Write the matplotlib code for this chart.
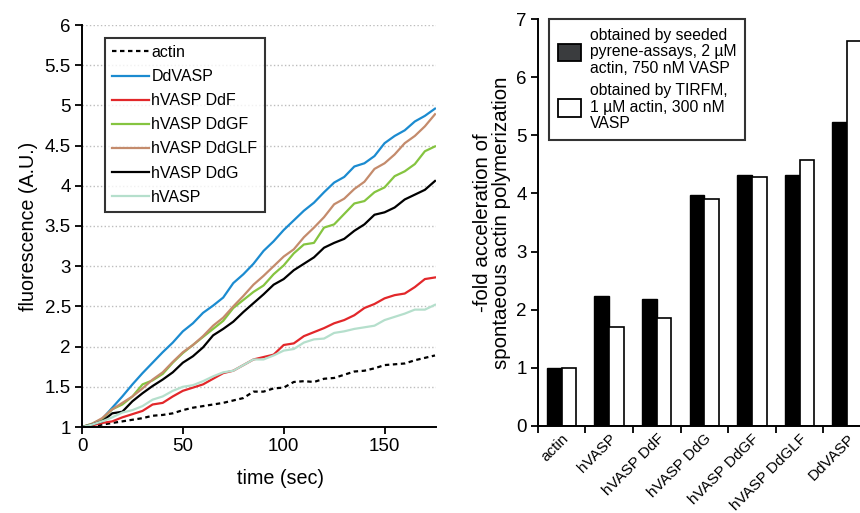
import numpy as np
import matplotlib
matplotlib.use("Agg")
import matplotlib.pyplot as plt
from matplotlib.patches import Patch

plt.rcParams['font.family'] = ['Liberation Sans', 'DejaVu Sans']

# ---------------- data: left panel (time course) ----------------
time = list(range(0, 180, 5))
actin = [1.00, 1.01, 1.03, 1.05, 1.07, 1.09, 1.11, 1.14, 1.15, 1.17, 1.21, 1.24, 1.26, 1.28,
         1.30, 1.33, 1.36, 1.44, 1.44, 1.48, 1.49, 1.56, 1.57, 1.56, 1.60, 1.61, 1.65, 1.69,
         1.70, 1.73, 1.77, 1.78, 1.79, 1.83, 1.86, 1.89]
ddvasp = [1.00, 1.03, 1.10, 1.24, 1.38, 1.53, 1.67, 1.80, 1.93, 2.05, 2.19, 2.29, 2.42, 2.51,
          2.61, 2.79, 2.90, 3.03, 3.19, 3.31, 3.45, 3.57, 3.69, 3.79, 3.92, 4.04, 4.11, 4.24,
          4.28, 4.37, 4.53, 4.62, 4.69, 4.80, 4.87, 4.96]
hvasp_ddf = [1.00, 1.02, 1.05, 1.07, 1.12, 1.16, 1.20, 1.28, 1.30, 1.38, 1.45, 1.49, 1.53, 1.60,
             1.67, 1.70, 1.77, 1.84, 1.87, 1.90, 2.02, 2.04, 2.13, 2.18, 2.23, 2.29, 2.33, 2.39,
             2.48, 2.53, 2.60, 2.64, 2.66, 2.74, 2.84, 2.86]
hvasp_ddgf = [1.00, 1.04, 1.10, 1.22, 1.28, 1.38, 1.53, 1.58, 1.66, 1.80, 1.92, 2.02, 2.12, 2.22,
              2.32, 2.48, 2.58, 2.68, 2.76, 2.90, 3.01, 3.16, 3.27, 3.29, 3.48, 3.52, 3.65, 3.78,
              3.81, 3.92, 3.98, 4.12, 4.18, 4.27, 4.43, 4.49]
hvasp_ddglf = [1.00, 1.04, 1.11, 1.22, 1.30, 1.38, 1.48, 1.59, 1.68, 1.81, 1.93, 2.02, 2.13, 2.26,
               2.36, 2.50, 2.63, 2.77, 2.88, 3.00, 3.12, 3.21, 3.36, 3.48, 3.61, 3.77, 3.84, 3.96,
               4.05, 4.21, 4.28, 4.39, 4.53, 4.62, 4.74, 4.89]
hvasp_ddg = [1.00, 1.03, 1.07, 1.17, 1.19, 1.32, 1.42, 1.51, 1.59, 1.68, 1.80, 1.88, 1.99, 2.14,
             2.22, 2.31, 2.43, 2.54, 2.65, 2.77, 2.84, 2.95, 3.03, 3.11, 3.23, 3.29, 3.34, 3.44,
             3.52, 3.64, 3.67, 3.73, 3.83, 3.89, 3.95, 4.06]
hvasp = [1.00, 1.03, 1.07, 1.12, 1.18, 1.21, 1.26, 1.34, 1.38, 1.45, 1.50, 1.52, 1.57, 1.63,
         1.68, 1.70, 1.77, 1.84, 1.84, 1.89, 1.95, 1.97, 2.05, 2.09, 2.10, 2.17, 2.19, 2.22,
         2.24, 2.26, 2.33, 2.37, 2.41, 2.46, 2.46, 2.52]

# ---------------- data: right panel (bars) ----------------
categories = ['actin', 'hVASP', 'hVASP DdF', 'hVASP DdG', 'hVASP DdGF', 'hVASP DdGLF', 'DdVASP']
pyrene = [1.00, 2.23, 2.19, 3.98, 4.31, 4.31, 5.22]
tirfm = [1.00, 1.71, 1.85, 3.90, 4.28, 4.58, 6.63]

fig = plt.figure(figsize=(8.6, 5.13), dpi=100)

# ---------------- left panel ----------------
ax1 = fig.add_axes([82/860, 1 - 427/513, (436-82)/860, (427-25)/513])
series = [
    (actin, 'actin', 'black', (0, (2.0, 1.6))),
    (ddvasp, 'DdVASP', '#1b8bd0', '-'),
    (hvasp_ddf, 'hVASP DdF', '#e2272a', '-'),
    (hvasp_ddgf, 'hVASP DdGF', '#85c440', '-'),
    (hvasp_ddglf, 'hVASP DdGLF', '#c48b6c', '-'),
    (hvasp_ddg, 'hVASP DdG', 'black', '-'),
    (hvasp, 'hVASP', '#b5dfcc', '-'),
]
for vals, lab, col, ls in series:
    ax1.plot(time, vals, color=col, lw=1.6, ls=ls, label=lab)

ax1.set_xlim(0, 175.5)
ax1.set_ylim(1, 6)
ax1.set_xticks([0, 50, 100, 150])
ax1.set_yticks(np.arange(1, 6.01, 0.5))
ax1.set_yticklabels(['1', '1.5', '2', '2.5', '3', '3.5', '4', '4.5', '5', '5.5', '6'])
ax1.yaxis.grid(True, linestyle=':', color='#bdbdbd', lw=1.0)
ax1.set_axisbelow(True)
for s in ['top', 'right']:
    ax1.spines[s].set_visible(False)
for s in ['left', 'bottom']:
    ax1.spines[s].set_linewidth(1.4)
ax1.tick_params(direction='out', length=5, width=1.3, labelsize=13.5, pad=3)
ax1.set_xlabel('time (sec)', fontsize=14.2)
ax1.xaxis.set_label_coords(0.56, -0.105)
ax1.set_ylabel('fluorescence (A.U.)', fontsize=14.2, labelpad=5)
leg1 = ax1.legend(loc='upper left', bbox_to_anchor=(0.065, 0.968), fontsize=11.5,
                  frameon=True, fancybox=False, edgecolor='black', handlelength=2.3,
                  handletextpad=0.15, labelspacing=0.57, borderpad=0.45, borderaxespad=0)
leg1.get_frame().set_linewidth(1.5)

# ---------------- right panel ----------------
ax2 = fig.add_axes([537.7/860, 1 - 426/513, (871-537.7)/860, (426-19)/513])
x = np.arange(len(categories))
w = 0.31
ax2.bar(x - w/2, pyrene, w, color='black', edgecolor='black', lw=1.0)
ax2.bar(x + w/2, tirfm, w, color='white', edgecolor='black', lw=1.2)
ax2.set_xlim(-0.5, 6.5)
ax2.set_ylim(0, 7)
ax2.set_yticks(range(0, 8))
ax2.set_xticks(x)
ax2.set_xticklabels(categories, rotation=45, ha='right', rotation_mode='anchor', fontsize=11)
ax2.set_xticks(np.arange(-0.5, 6.6, 1), minor=True)
ax2.tick_params(axis='x', which='major', length=0, pad=4)
ax2.tick_params(axis='x', which='minor', direction='out', length=5, width=1.3)
ax2.tick_params(axis='y', direction='out', length=5, width=1.3, labelsize=13.5, pad=3)
for s in ['top', 'right']:
    ax2.spines[s].set_visible(False)
for s in ['left', 'bottom']:
    ax2.spines[s].set_linewidth(1.4)
ax2.set_ylabel('-fold acceleration of\nspontaeous actin polymerization', fontsize=14.8,
               labelpad=4, linespacing=0.95)
handles = [Patch(facecolor='#3a3c3e', edgecolor='black', lw=1.3),
           Patch(facecolor='white', edgecolor='black', lw=1.3)]
labels = ['obtained by seeded\npyrene-assays, 2 \u00b5M\nactin, 750 nM VASP',
          'obtained by TIRFM,\n1 \u00b5M actin, 300 nM\nVASP']
leg2 = ax2.legend(handles, labels, loc='upper left', bbox_to_anchor=(0.034, 1.0), fontsize=11.3,
                  frameon=True, fancybox=False, edgecolor='black', handlelength=1.5,
                  handleheight=1.3, handletextpad=0.55, labelspacing=0.5, borderpad=0.55,
                  borderaxespad=0)
leg2.get_frame().set_linewidth(1.5)
for t in leg2.get_texts():
    t.set_linespacing(1.12)

fig.savefig('out.png', dpi=100)
